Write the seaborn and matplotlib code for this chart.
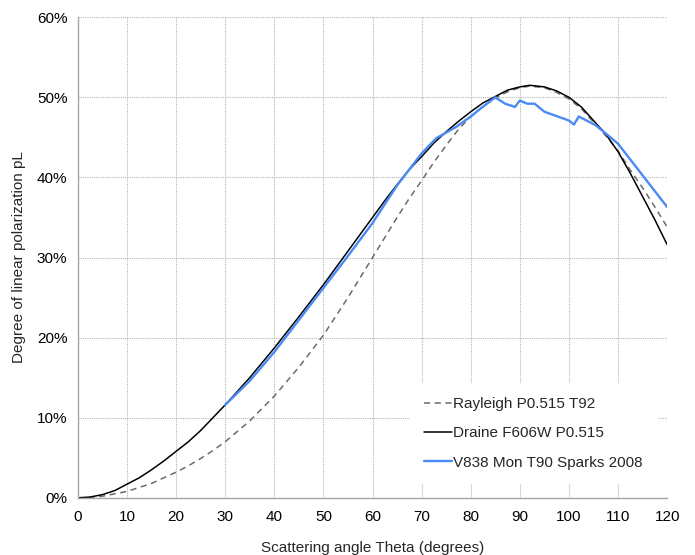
import matplotlib
matplotlib.use("Agg")
import matplotlib.pyplot as plt
import seaborn as sns
import pandas as pd
from matplotlib.ticker import PercentFormatter, MultipleLocator

# scattering angle (degrees) and polarization (%)
rayleigh_theta = [0, 2.5, 5, 7.5, 10, 12.5, 15, 17.5, 20, 22.5, 25, 27.5, 30,
                  35, 40, 45, 50, 55, 60, 65, 67.5, 70, 72.5, 75, 77.5, 80,
                  82.5, 85, 87.5, 90, 92, 95, 97.5, 100, 102.5, 105, 107.5,
                  110, 112.5, 115, 117.5, 120]
rayleigh_pol = [0, 0.05, 0.2, 0.5, 0.8, 1.3, 1.8, 2.5, 3.2, 4.0, 4.9, 5.9, 7.0,
                9.6, 12.7, 16.3, 20.3, 25.0, 30.0, 35.0, 37.4, 39.6, 41.9,
                44.0, 46.0, 47.6, 48.9, 49.9, 50.7, 51.2, 51.4, 51.2, 50.6,
                49.8, 48.6, 46.9, 45.2, 43.3, 40.9, 38.7, 36.3, 33.8]

draine_theta = [0, 2.5, 5, 7.5, 10, 12.5, 15, 17.5, 20, 22.5, 25, 27.5, 30,
                35, 40, 45, 50, 55, 60, 62.5, 65, 67.5, 70, 72.5, 75, 77.5,
                80, 82.5, 85, 87.5, 90, 92, 95, 97.5, 100, 102.5, 105, 107.5,
                110, 112.5, 115, 117.5, 120]
draine_pol = [0, 0.1, 0.4, 0.9, 1.7, 2.5, 3.5, 4.6, 5.8, 7.0, 8.4, 10.0, 11.6,
              15.0, 18.7, 22.6, 26.6, 30.8, 35.0, 37.1, 39.1, 41.0, 42.6, 44.3,
              45.7, 47.0, 48.2, 49.3, 50.1, 50.9, 51.3, 51.5, 51.3, 50.8,
              50.0, 48.8, 47.1, 45.4, 43.2, 40.5, 37.6, 34.7, 31.6]

v838_theta = [30, 35, 40, 45, 50, 55, 60, 65, 70, 73, 77, 80, 82, 85, 87, 89,
              90, 91.5, 93, 95, 100, 101, 102, 105.5, 110, 120]
v838_pol = [11.6, 14.6, 18.2, 22.2, 26.2, 30.2, 34.3, 39.0, 43.0, 44.9, 46.3,
            47.6, 48.6, 50.0, 49.2, 48.8, 49.6, 49.2, 49.2, 48.2, 47.1, 46.6,
            47.6, 46.5, 44.2, 36.3]

sns.set_theme(style="white")
plt.rcParams["font.family"] = ["Liberation Sans", "DejaVu Sans"]

fig = plt.figure(figsize=(6.95, 5.55), dpi=100)
ax = fig.add_axes([0.112, 0.103, 0.848, 0.866])

rayleigh = pd.DataFrame({"theta": rayleigh_theta, "pol": rayleigh_pol})
draine = pd.DataFrame({"theta": draine_theta, "pol": draine_pol})
v838 = pd.DataFrame({"theta": v838_theta, "pol": v838_pol})

sns.lineplot(data=rayleigh, x="theta", y="pol", ax=ax, color="#6b6b6b",
             linewidth=1.1, label="Rayleigh P0.515 T92")
ax.lines[-1].set_linestyle((0, (4, 3)))
sns.lineplot(data=draine, x="theta", y="pol", ax=ax, color="black",
             linewidth=1.1, label="Draine F606W P0.515")
sns.lineplot(data=v838, x="theta", y="pol", ax=ax, color="#4a8af4",
             linewidth=1.7, label="V838 Mon T90 Sparks 2008")

ax.set_xlim(0, 120)
ax.set_ylim(0, 60)
ax.xaxis.set_major_locator(MultipleLocator(10))
ax.yaxis.set_major_locator(MultipleLocator(10))
ax.yaxis.set_major_formatter(PercentFormatter(xmax=100, decimals=0))

ax.grid(True, color="#b5b5b5", linestyle=(0, (1, 1)), linewidth=0.8)
ax.set_axisbelow(True)
for side in ["top", "right"]:
    ax.spines[side].set_visible(False)
for side in ["left", "bottom"]:
    ax.spines[side].set_color("#a8a8a8")
    ax.spines[side].set_linewidth(1.0)
ax.tick_params(axis="both", which="major", length=4, width=0.8, color="#a8a8a8",
               labelsize=11, labelcolor="black", direction="out")
ax.tick_params(axis="x", pad=5)

ax.set_xlabel("Scattering angle Theta (degrees)", fontsize=11, labelpad=12)
ax.set_ylabel("Degree of linear polarization pL", fontsize=11, labelpad=8)

ax.legend(loc="lower right", bbox_to_anchor=(0.982, 0.03), fontsize=11,
          frameon=True, facecolor="white", edgecolor="white",
          framealpha=1.0, fancybox=False, handlelength=1.8,
          handletextpad=0.1, labelspacing=1.0, borderpad=0.9,
          borderaxespad=0.0)

fig.savefig("out.png", dpi=100)
